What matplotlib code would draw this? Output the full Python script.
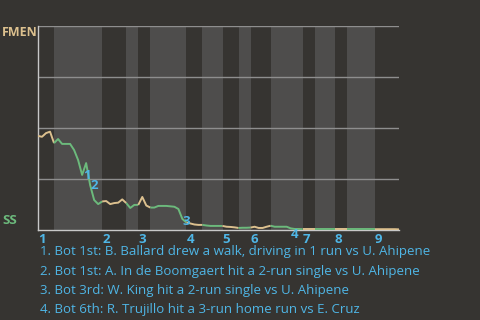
import numpy as np
import matplotlib
matplotlib.use('Agg')
import matplotlib.pyplot as plt

# win probability for FMEN after each play (index = play number)
wp = [0.461, 0.457, 0.475, 0.482, 0.426, 0.446, 0.422, 0.422, 0.422, 0.392,
      0.343, 0.270, 0.328, 0.220, 0.147, 0.127, 0.140, 0.142, 0.127, 0.132,
      0.134, 0.150, 0.132, 0.108, 0.123, 0.123, 0.162, 0.120, 0.110, 0.110,
      0.118, 0.118, 0.118, 0.116, 0.114, 0.103, 0.054, 0.037, 0.032, 0.027,
      0.025, 0.025, 0.022, 0.020, 0.020, 0.020, 0.020, 0.016, 0.015, 0.013,
      0.010, 0.011, 0.011, 0.012, 0.016, 0.010, 0.010, 0.016, 0.021, 0.016,
      0.016, 0.016, 0.016, 0.008, 0.005, 0.005, 0.004, 0.004, 0.004, 0.004,
      0.004, 0.004, 0.004, 0.004, 0.004, 0.004, 0.004, 0.004, 0.004, 0.004,
      0.004, 0.004, 0.004, 0.004, 0.004, 0.004, 0.004, 0.004, 0.004, 0.004,
      0.003]
# play index where each half inning starts (top 1st, bot 1st, ...), last = end
half_starts = [0, 4, 16, 22, 25, 28, 37, 41, 46, 50, 53, 58, 66, 69, 74, 77, 84, 90]
innings = ['1', '2', '3', '4', '5', '6', '7', '8', '9']
# key plays: label, play index, label position (wp)
ev_lbl = ['1', '2', '3', '4']
ev_x = [12.3, 14.0, 37.0, 64.0]
ev_y = [0.265, 0.22, 0.04, -0.02]
notes = ['1. Bot 1st: B. Ballard drew a walk, driving in 1 run vs U. Ahipene',
         '2. Bot 1st: A. In de Boomgaert hit a 2-run single vs U. Ahipene',
         '3. Bot 3rd: W. King hit a 2-run single vs U. Ahipene',
         '4. Bot 6th: R. Trujillo hit a 3-run home run vs E. Cruz']

bg = '#363431'
band = '#4e4d4c'
tan = '#dcc08e'
green = '#6cba7c'
blue = '#4fb6e6'
plt.rcParams['font.family'] = ['Open Sans', 'DejaVu Sans']

fig = plt.figure(figsize=(4.8, 3.2), dpi=100, facecolor=bg)
ax = fig.add_axes([38/480, 90/320, 361/480, 204/320])
ax.set_facecolor(bg)

# bottom halves shaded
for k in range(1, len(half_starts) - 1, 2):
    ax.axvspan(half_starts[k], half_starts[k+1], color=band, lw=0, zorder=0)

for g in [0.25, 0.5, 0.75, 1.0]:
    ax.axhline(g, color='#8e8e8e', lw=1.0, zorder=1)

x = np.arange(len(wp))
for k in range(len(half_starts) - 1):
    a, b = half_starts[k], half_starts[k+1]
    col = tan if k % 2 == 0 else green
    ax.plot(x[a:b+1], wp[a:b+1], color=col, lw=1.4, zorder=3,
            solid_capstyle='butt')

for l, ex, ey in zip(ev_lbl, ev_x, ev_y):
    ax.text(ex, ey, l, color=blue, fontsize=9.5, fontweight='bold',
            ha='center', va='center', zorder=4, clip_on=False)

ax.set_xlim(0, half_starts[-1])
ax.set_ylim(0, 1)
ax.set_yticks([])
ax.set_xticks(half_starts[0:-1:2])
ax.set_xticklabels(innings, color=blue, fontsize=9.5, fontweight='bold', ha='left')
ax.tick_params(axis='x', length=0, pad=2.5)
for s in ['top', 'right']:
    ax.spines[s].set_visible(False)
ax.spines['left'].set_color('#c8c8c8')
ax.spines['bottom'].set_color('#c8c8c8')
ax.spines['left'].set_linewidth(1.0)
ax.spines['bottom'].set_linewidth(1.0)

fig.text(2/480, 1 - 33/320, 'FMEN', color=tan, fontsize=9, fontweight='bold',
         va='center', ha='left')
fig.text(2/480, 1 - 221/320, 'SS', color=green, fontsize=9.5, fontweight='bold',
         va='center', ha='left')

for i, n in enumerate(notes):
    fig.text(40/480, 1 - (252 + 19.3*i)/320, n, color=blue, fontsize=9.5,
             va='center', ha='left')

fig.savefig('out.png', dpi=100, facecolor=bg)
